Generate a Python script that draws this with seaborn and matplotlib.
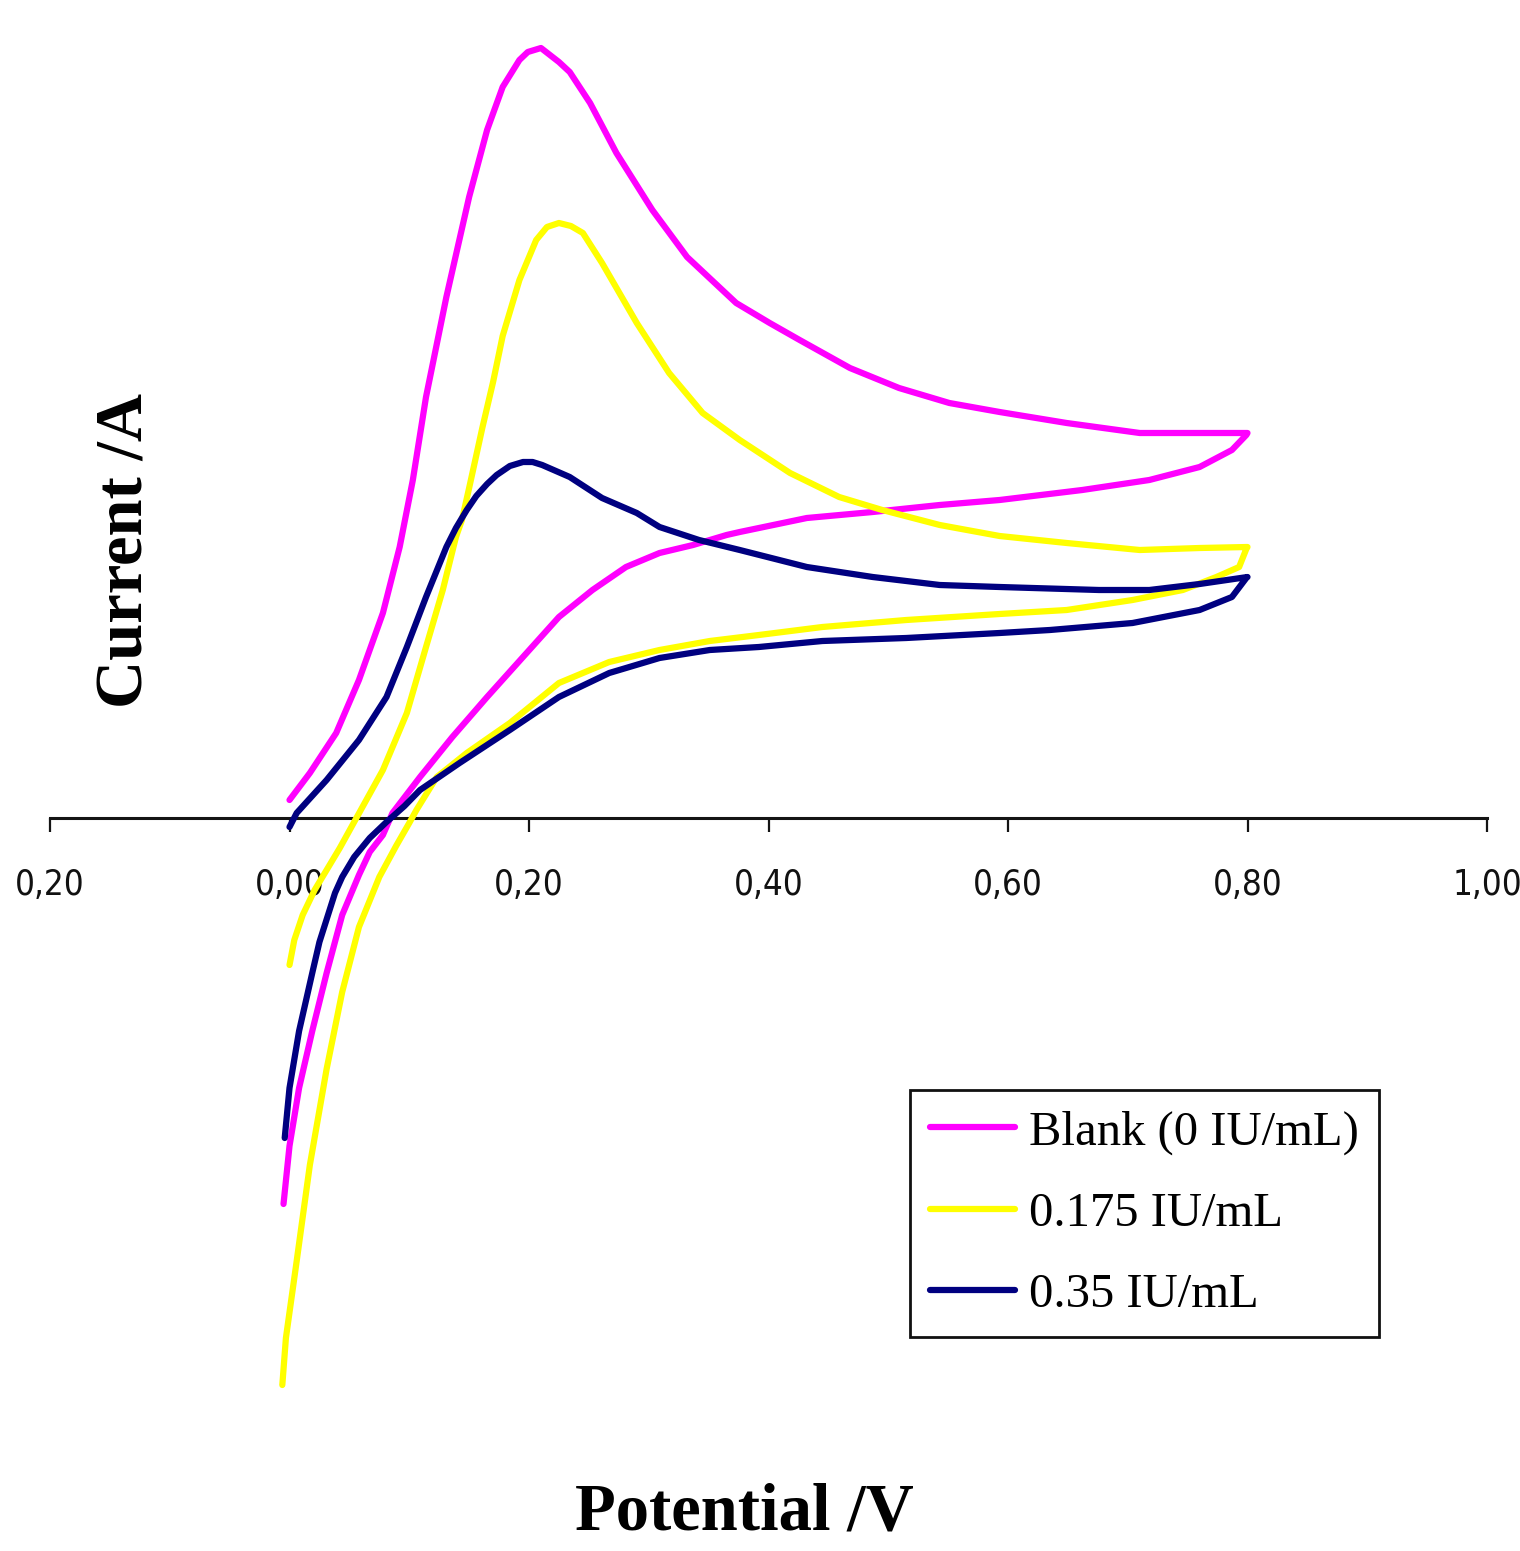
import numpy as np
import pandas as pd
import matplotlib
matplotlib.use("Agg")
import matplotlib.pyplot as plt
from matplotlib.ticker import FixedLocator, FixedFormatter
import seaborn as sns

# ---------------- data (potential in V, current in arbitrary units) ----------------
blank_potential = [0.000, 0.017, 0.039, 0.058, 0.078, 0.092, 0.103, 0.114, 0.131, 0.150,
                   0.165, 0.178, 0.192, 0.199, 0.210, 0.225, 0.234, 0.251, 0.273, 0.303,
                   0.332, 0.373, 0.401, 0.426, 0.468, 0.509, 0.551, 0.593, 0.649, 0.710,
                   0.760, 0.800,
                   0.799, 0.787, 0.760, 0.718, 0.662, 0.593, 0.543, 0.487, 0.432, 0.376,
                   0.365, 0.337, 0.309, 0.281, 0.253, 0.225, 0.198, 0.165, 0.136, 0.109,
                   0.086, 0.078, 0.067, 0.058, 0.044, 0.031, 0.019, 0.008, 0.000, -0.005]
blank_current = [1.8, 4.5, 8.5, 13.8, 20.5, 27.1, 33.8, 42.1, 52.1, 62.1,
                 68.8, 73.1, 75.8, 76.6, 77.0, 75.6, 74.6, 71.5, 66.5, 60.8,
                 56.1, 51.5, 49.5, 47.8, 45.0, 43.0, 41.5, 40.6, 39.5, 38.5,
                 38.5, 38.5,
                 38.3, 36.8, 35.1, 33.8, 32.8, 31.8, 31.3, 30.6, 30.0, 28.6,
                 28.3, 27.3, 26.5, 25.1, 22.8, 20.1, 16.5, 12.1, 8.1, 4.1,
                 0.5, -1.7, -3.4, -5.7, -9.7, -15.5, -21.3, -27.0, -32.8, -38.6]

low_potential = [0.000, 0.004, 0.011, 0.021, 0.031, 0.042, 0.054, 0.078, 0.098, 0.114,
                 0.128, 0.139, 0.144, 0.150, 0.161, 0.170, 0.178, 0.192, 0.206, 0.215,
                 0.225, 0.235, 0.245, 0.261, 0.290, 0.317, 0.345, 0.376, 0.418, 0.459,
                 0.495, 0.543, 0.593, 0.649, 0.710, 0.760, 0.800,
                 0.799, 0.793, 0.774, 0.746, 0.704, 0.649, 0.593, 0.515, 0.445, 0.392,
                 0.351, 0.309, 0.267, 0.225, 0.184, 0.148, 0.123, 0.106, 0.100, 0.089,
                 0.075, 0.058, 0.044, 0.031, 0.017, 0.006, -0.003, -0.006]
low_current = [-14.7, -12.2, -9.7, -7.2, -5.2, -3.0, -0.4, 4.8, 10.5, 17.1,
               22.8, 28.1, 29.8, 33.0, 39.0, 43.6, 48.2, 53.8, 57.8, 59.1,
               59.5, 59.2, 58.5, 55.5, 49.5, 44.5, 40.5, 37.8, 34.5, 32.1,
               30.8, 29.3, 28.2, 27.5, 26.8, 27.0, 27.1,
               26.9, 25.1, 24.1, 22.8, 21.8, 20.8, 20.4, 19.8, 19.1, 18.3,
               17.7, 16.8, 15.6, 13.5, 9.5, 6.5, 4.1, 0.8, -0.5, -2.8,
               -5.9, -10.9, -17.4, -25.1, -34.7, -44.3, -52.0, -56.7]

high_potential = [0.000, 0.006, 0.031, 0.058, 0.081, 0.098, 0.114, 0.131, 0.139, 0.148,
                  0.156, 0.165, 0.173, 0.184, 0.195, 0.203, 0.211, 0.234, 0.261, 0.290,
                  0.309, 0.342, 0.376, 0.432, 0.487, 0.543, 0.593, 0.676, 0.718, 0.760,
                  0.800,
                  0.799, 0.787, 0.760, 0.704, 0.635, 0.593, 0.515, 0.445, 0.392, 0.351,
                  0.309, 0.267, 0.225, 0.184, 0.142, 0.109, 0.096, 0.081, 0.067, 0.054,
                  0.044, 0.038, 0.025, 0.019, 0.008, 0.000, -0.004]
high_current = [-0.9, 0.5, 3.8, 7.8, 12.1, 17.1, 22.1, 27.1, 29.0, 30.8,
                32.2, 33.4, 34.3, 35.2, 35.6, 35.6, 35.3, 34.1, 32.0, 30.5,
                29.1, 27.8, 26.8, 25.1, 24.1, 23.3, 23.1, 22.8, 22.8, 23.4,
                24.1,
                24.0, 22.1, 20.8, 19.5, 18.8, 18.5, 18.0, 17.7, 17.1, 16.8,
                16.0, 14.5, 12.1, 8.8, 5.5, 2.8, 1.2, -0.4, -2.0, -3.9,
                -5.9, -7.5, -12.4, -15.5, -21.3, -27.0, -32.0]

series_labels = ["Blank (0 IU/mL)", "0.175 IU/mL", "0.35 IU/mL"]
series_colors = ["#FF00FF", "#FFFF00", "#000080"]

tick_values = [-0.2, 0.0, 0.2, 0.4, 0.6, 0.8, 1.0]
tick_labels = ["0,20", "0,00", "0,20", "0,40", "0,60", "0,80", "1,00"]

# ---------------- figure ----------------
sns.set_theme(style="white")
plt.rcParams["font.family"] = ["Liberation Serif", "DejaVu Serif"]
plt.rcParams["text.color"] = "black"

W, H = 1520, 1551
fig = plt.figure(figsize=(W / 100, H / 100), dpi=100)
ax = fig.add_axes([50 / W, (H - 1418) / H, 1437 / W, 1400 / H])

curves = [(blank_potential, blank_current), (low_potential, low_current),
          (high_potential, high_current)]
for (xs, ys), lab, col in zip(curves, series_labels, series_colors):
    df = pd.DataFrame({"potential": xs, "current": ys})
    sns.lineplot(data=df, x="potential", y="current", sort=False, estimator=None,
                 color=col, lw=4.5, label=lab, ax=ax)

ax.set_xlim(-0.2, 1.0)
ax.set_ylim(-60, 80)

for s in ["top", "left", "right"]:
    ax.spines[s].set_visible(False)
ax.spines["bottom"].set_position(("data", 0))
ax.spines["bottom"].set_color("#141414")
ax.spines["bottom"].set_linewidth(2.2)
ax.spines["bottom"].set_zorder(1)

ax.xaxis.set_major_locator(FixedLocator(tick_values))
ax.xaxis.set_major_formatter(FixedFormatter(tick_labels))
ax.tick_params(axis="x", direction="out", length=10, width=1.6, color="#141414",
               pad=26, bottom=True)
for t in ax.get_xticklabels():
    t.set_fontfamily(["DejaVu Sans"])
    t.set_fontstretch("condensed")
    t.set_fontsize(25)
    t.set_color("#111111")
ax.set_yticks([])
ax.set_xlabel("")
ax.set_ylabel("")
ax.grid(False)

fig.text(744 / W, 1 - 1513 / H, "Potential /V", ha="center", va="center", color="black",
         fontsize=48, fontweight="bold", family=["Liberation Serif", "DejaVu Serif"])
fig.text(126 / W, 1 - 550 / H, "Current /A", ha="center", va="center", rotation=90,
         color="black", fontsize=48, fontweight="bold",
         family=["Liberation Serif", "DejaVu Serif"])

leg = ax.legend(loc="upper left", bbox_to_anchor=(910 / W, 1 - 1090 / H),
                bbox_transform=fig.transFigure, borderaxespad=0, frameon=True,
                fancybox=False, shadow=False, prop={"family": "Liberation Serif", "size": 35},
                handlelength=1.75, handletextpad=0.28, labelspacing=0.76, borderpad=0.42)
leg.get_frame().set_edgecolor("#111111")
leg.get_frame().set_linewidth(2.0)
leg.get_frame().set_facecolor("white")
leg.get_frame().set_alpha(1.0)
for txt in leg.get_texts():
    txt.set_color("black")
for ln in leg.get_lines():
    ln.set_linewidth(4.5)

fig.savefig("out.png", dpi=100)
